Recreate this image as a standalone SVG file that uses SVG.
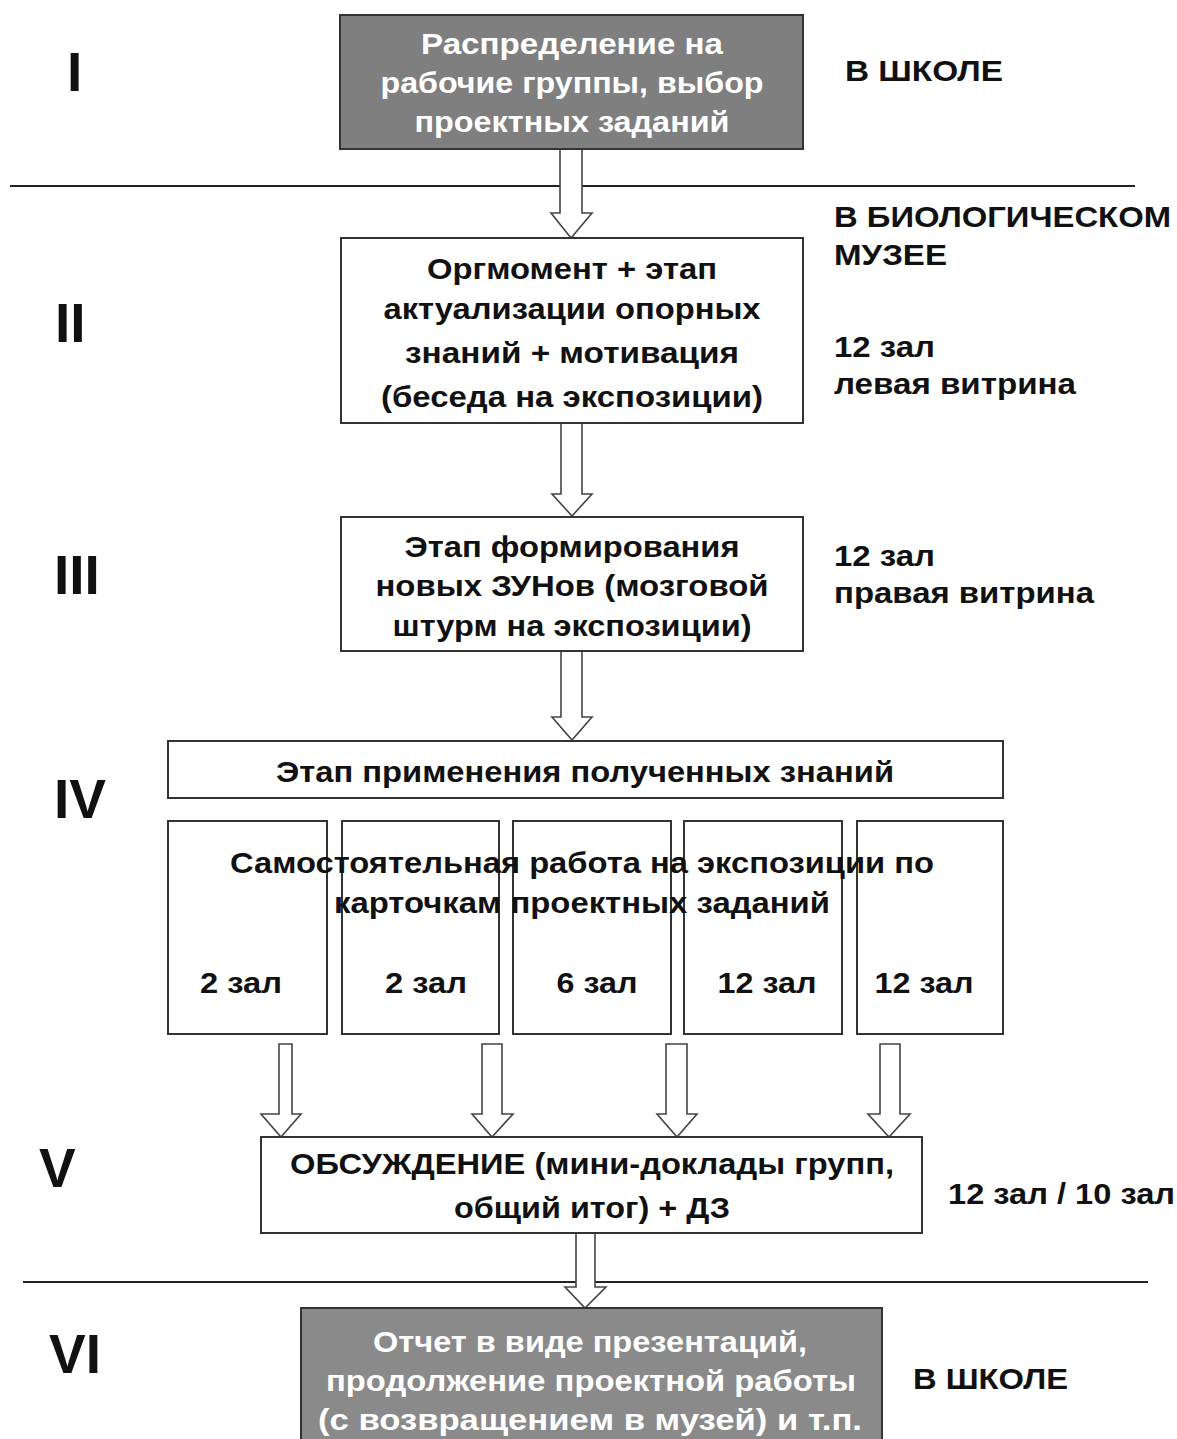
<svg xmlns="http://www.w3.org/2000/svg" width="1177" height="1439" viewBox="0 0 1177 1439">
<style>
.t{font-family:"Liberation Sans",Arial,sans-serif;font-weight:bold;font-size:30px;fill:#111}
.w{fill:#fff}
.c{text-anchor:middle}
.num{font-family:"Liberation Sans",Arial,sans-serif;font-weight:bold;font-size:55px;fill:#111}
.box{fill:#fff;stroke:#333;stroke-width:2}
.gbox{stroke:#333;stroke-width:2}
.arr{fill:#fff;stroke:#444;stroke-width:1.6;stroke-linejoin:miter}
.sep{stroke:#222;stroke-width:2}
</style>
<rect width="1177" height="1439" fill="#fff"/>

<g id="separators">
<line class="sep" x1="10" y1="186" x2="1135" y2="186"/>
<line class="sep" x1="23" y1="1282" x2="1148" y2="1282"/>
</g>

<g id="stage-labels">
<text class="num" x="67" y="91">I</text>
<text class="num" x="55" y="342">II</text>
<text class="num" x="54" y="594">III</text>
<text class="num" x="54" y="818">IV</text>
<text class="num" x="39" y="1187">V</text>
<text class="num" x="49" y="1373">VI</text>
</g>

<g id="side-notes">
<text class="t" x="845" y="81" textLength="158" lengthAdjust="spacingAndGlyphs">В ШКОЛЕ</text>
<text class="t" x="834" y="227" textLength="337" lengthAdjust="spacingAndGlyphs">В БИОЛОГИЧЕСКОМ</text>
<text class="t" x="834" y="265" textLength="113" lengthAdjust="spacingAndGlyphs">МУЗЕЕ</text>
<text class="t" x="834" y="357" textLength="101" lengthAdjust="spacingAndGlyphs">12 зал</text>
<text class="t" x="834" y="394" textLength="242" lengthAdjust="spacingAndGlyphs">левая витрина</text>
<text class="t" x="834" y="566" textLength="101" lengthAdjust="spacingAndGlyphs">12 зал</text>
<text class="t" x="834" y="603" textLength="260" lengthAdjust="spacingAndGlyphs">правая витрина</text>
<text class="t" x="948" y="1204" textLength="227" lengthAdjust="spacingAndGlyphs">12 зал / 10 зал</text>
<text class="t" x="913" y="1389" textLength="155" lengthAdjust="spacingAndGlyphs">В ШКОЛЕ</text>
</g>

<g id="connectors">
<polygon class="arr" points="560,149 582,149 582,213 592,213 571,238 551,213 560,213"/>
<polygon class="arr" points="561,423 582,423 582,494 592,494 572,516 552,494 561,494"/>
<polygon class="arr" points="561,651 582,651 582,717 592,717 572,740 552,717 561,717"/>
<polygon class="arr" points="279,1044 292,1044 292,1114 301,1114 281,1137 261,1114 279,1114"/>
<polygon class="arr" points="482,1044 502,1044 502,1114 513,1114 492,1137 472,1114 482,1114"/>
<polygon class="arr" points="666,1044 687,1044 687,1114 697,1114 677,1137 657,1114 666,1114"/>
<polygon class="arr" points="880,1044 900,1044 900,1114 910,1114 889,1137 868,1114 880,1114"/>
<polygon class="arr" points="576,1233 595,1233 595,1287 606,1287 585,1308 565,1287 576,1287"/>
</g>

<g id="node-1">
<rect class="gbox" x="340" y="15" width="463" height="134" fill="#7f7f7f"/>
<text class="t w c" x="572" y="54" textLength="302" lengthAdjust="spacingAndGlyphs">Распределение на</text>
<text class="t w c" x="572" y="93" textLength="383" lengthAdjust="spacingAndGlyphs">рабочие группы, выбор</text>
<text class="t w c" x="572" y="132" textLength="315" lengthAdjust="spacingAndGlyphs">проектных заданий</text>
</g>

<g id="node-2">
<rect class="box" x="341" y="238" width="462" height="185"/>
<text class="t c" x="572" y="279" textLength="290" lengthAdjust="spacingAndGlyphs">Оргмомент + этап</text>
<text class="t c" x="572" y="319" textLength="377" lengthAdjust="spacingAndGlyphs">актуализации опорных</text>
<text class="t c" x="572" y="363" textLength="334" lengthAdjust="spacingAndGlyphs">знаний + мотивация</text>
<text class="t c" x="572" y="407" textLength="382" lengthAdjust="spacingAndGlyphs">(беседа на экспозиции)</text>
</g>

<g id="node-3">
<rect class="box" x="341" y="517" width="462" height="134"/>
<text class="t c" x="572" y="557" textLength="335" lengthAdjust="spacingAndGlyphs">Этап формирования</text>
<text class="t c" x="572" y="596" textLength="393" lengthAdjust="spacingAndGlyphs">новых ЗУНов (мозговой</text>
<text class="t c" x="572" y="636" textLength="359" lengthAdjust="spacingAndGlyphs">штурм на экспозиции)</text>
</g>

<g id="node-4">
<rect class="box" x="168" y="741" width="835" height="57"/>
<text class="t c" x="585" y="782" textLength="618" lengthAdjust="spacingAndGlyphs">Этап применения полученных знаний</text>
</g>

<g id="node-4a">
<rect class="box" x="168" y="821" width="159" height="213"/>
<text class="t c" x="241" y="993" textLength="82" lengthAdjust="spacingAndGlyphs">2 зал</text>
</g>
<g id="node-4b">
<rect class="box" x="342" y="821" width="157" height="213"/>
<text class="t c" x="426" y="993" textLength="82" lengthAdjust="spacingAndGlyphs">2 зал</text>
</g>
<g id="node-4c">
<rect class="box" x="513" y="821" width="158" height="213"/>
<text class="t c" x="597" y="993" textLength="81" lengthAdjust="spacingAndGlyphs">6 зал</text>
</g>
<g id="node-4d">
<rect class="box" x="684" y="821" width="158" height="213"/>
<text class="t c" x="767" y="993" textLength="99" lengthAdjust="spacingAndGlyphs">12 зал</text>
</g>
<g id="node-4e">
<rect class="box" x="857" y="821" width="146" height="213"/>
<text class="t c" x="924" y="993" textLength="99" lengthAdjust="spacingAndGlyphs">12 зал</text>
</g>
<g id="node-4-caption">
<text class="t c" x="582" y="873" textLength="704" lengthAdjust="spacingAndGlyphs">Самостоятельная работа на экспозиции по</text>
<text class="t c" x="582" y="913" textLength="496" lengthAdjust="spacingAndGlyphs">карточкам проектных заданий</text>
</g>

<g id="node-5">
<rect class="box" x="261" y="1137" width="661" height="96"/>
<text class="t c" x="592" y="1174" textLength="604" lengthAdjust="spacingAndGlyphs">ОБСУЖДЕНИЕ (мини-доклады групп,</text>
<text class="t c" x="592" y="1218" textLength="276" lengthAdjust="spacingAndGlyphs">общий итог) + ДЗ</text>
</g>

<g id="node-6">
<rect class="gbox" x="301" y="1308" width="581" height="140" fill="#8a8a8a"/>
<text class="t w c" x="590" y="1352" textLength="434" lengthAdjust="spacingAndGlyphs">Отчет в виде презентаций,</text>
<text class="t w c" x="591" y="1391" textLength="530" lengthAdjust="spacingAndGlyphs">продолжение проектной работы</text>
<text class="t w c" x="590" y="1430" textLength="544" lengthAdjust="spacingAndGlyphs">(с возвращением в музей) и т.п.</text>
</g>
</svg>
